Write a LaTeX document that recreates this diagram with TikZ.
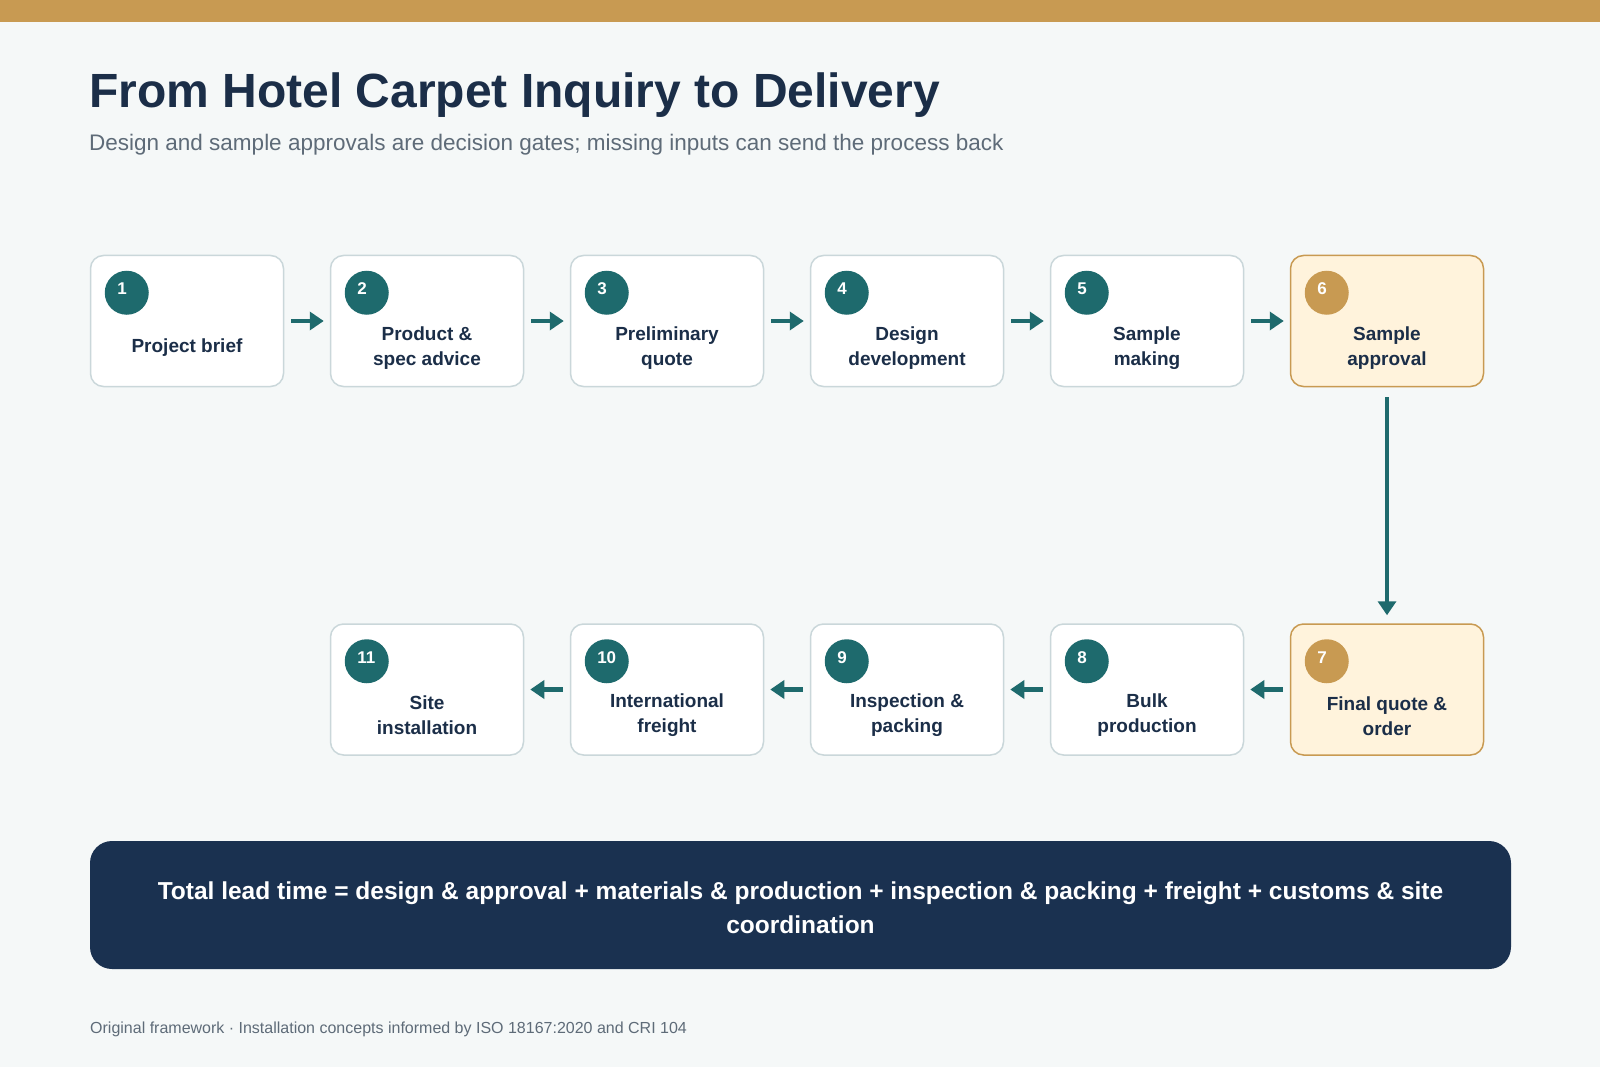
\documentclass[tikz,border=0pt]{standalone}
\usepackage{fontspec}
\setmainfont{Liberation Sans}
\usetikzlibrary{positioning,calc,arrows.meta}
\definecolor{bg}{HTML}{F5F8F8}
\definecolor{gold}{HTML}{C89A52}
\definecolor{cream}{HTML}{FFF3DC}
\definecolor{tealc}{HTML}{1E6A6D}
\definecolor{boxline}{HTML}{CAD7DA}
\definecolor{navy}{HTML}{1B2E48}
\definecolor{banner}{HTML}{1A3150}
\definecolor{grey}{HTML}{5E6B78}

\begin{document}
\begin{tikzpicture}[x=1pt,y=-1pt,
  stepbox/.style={draw=boxline,line width=1.5pt,fill=white,rounded corners=13pt,
    minimum width=193pt,minimum height=131pt},
  gatebox/.style={stepbox,draw=gold,fill=cream},
  stepdot/.style={circle,fill=tealc,minimum size=44pt,inner sep=0pt},
  gatedot/.style={stepdot,fill=gold},
  stepnum/.style={anchor=west,inner sep=0pt,text=white,font=\bfseries\fontsize{17}{17}\selectfont},
  steptext/.style={align=center,text=navy,font=\bfseries\fontsize{19}{25}\selectfont},
  flow/.style={draw=tealc,line width=4.5pt,-{Triangle[length=14pt,width=18pt]},
    shorten <=7pt,shorten >=6pt}]
\useasboundingbox (0,0) rectangle (1600,1067);
\fill[bg] (0,0) rectangle (1600,1067);
\fill[gold] (0,0) rectangle (1600,22);

% titre
\node[anchor=west,inner sep=0pt,text=navy,font=\bfseries\fontsize{48}{48}\selectfont] (title) at (89,95)
  {From Hotel Carpet Inquiry to Delivery};
\node[anchor=west,inner sep=0pt,text=grey,font=\fontsize{22.5}{22.5}\selectfont] (subtitle) at (89,145)
  {Design and sample approvals are decision gates; missing inputs can send the process back};

% ligne du haut
\foreach \t [count=\i] in {Project brief,{Product \&\\spec advice},{Preliminary\\quote},
    {Design\\development},{Sample\\making}} {
\node[stepbox] (s\i) at ({187+240*(\i-1)},321) {};
\node[stepdot] (n\i) at ($(s\i.north west)+(37,38)$) {};
\node[stepnum] (k\i) at ($(n\i.west)+(12.5,-4)$) {\i};
\node[steptext] (t\i) at ($(s\i.center)+(0,27)$) {\t};}
\node[gatebox] (s6) at (1387,321) {};
\node[gatedot] (n6) at ($(s6.north west)+(37,38)$) {};
\node[stepnum] (k6) at ($(n6.west)+(12.5,-4)$) {6};
\node[steptext] (t6) at ($(s6.center)+(0,27)$) {Sample\\approval};

% ligne du bas
\node[gatebox] (s7) at (1387,689.5) {};
\node[gatedot] (n7) at ($(s7.north west)+(37,38)$) {};
\node[stepnum] (k7) at ($(n7.west)+(12.5,-4)$) {7};
\node[steptext] (t7) at ($(s7.center)+(0,26.5)$) {Final quote \&\\order};
\foreach \t [count=\j from 8] in {{Bulk\\production},{Inspection \&\\packing},
    {International\\freight},{Site\\installation}} {
\node[stepbox] (s\j) at ({1147-240*(\j-8)},689.5) {};
\node[stepdot] (n\j) at ($(s\j.north west)+(37,38)$) {};
\node[stepnum] (k\j) at ($(n\j.west)+(12.5,-4)$) {\j};
\node[steptext] (t\j) at ($(s\j.center)+(0,26)$) {\t};}

% fleches
\foreach \a/\b in {1/2,2/3,3/4,4/5,5/6,7/8,8/9,9/10,10/11}
\draw[flow] (s\a) -- (s\b);
\draw[flow,shorten <=10pt,shorten >=8pt] (s6) -- (s7);

% bandeau
\node[fill=banner,rounded corners=22pt,minimum width=1421pt,minimum height=128pt] (total) at (800.5,905) {};
\node[align=center,text=white,font=\bfseries\fontsize{24.5}{34}\selectfont] (totaltext) at ($(total.center)+(0,3)$)
  {Total lead time = design \& approval + materials \& production + inspection \& packing + freight + customs \& site\\coordination};

\node[anchor=west,inner sep=0pt,text=grey,font=\fontsize{16}{16}\selectfont] (source) at (90,1029)
  {Original framework · Installation concepts informed by ISO 18167:2020 and CRI 104};
\end{tikzpicture}
\end{document}
